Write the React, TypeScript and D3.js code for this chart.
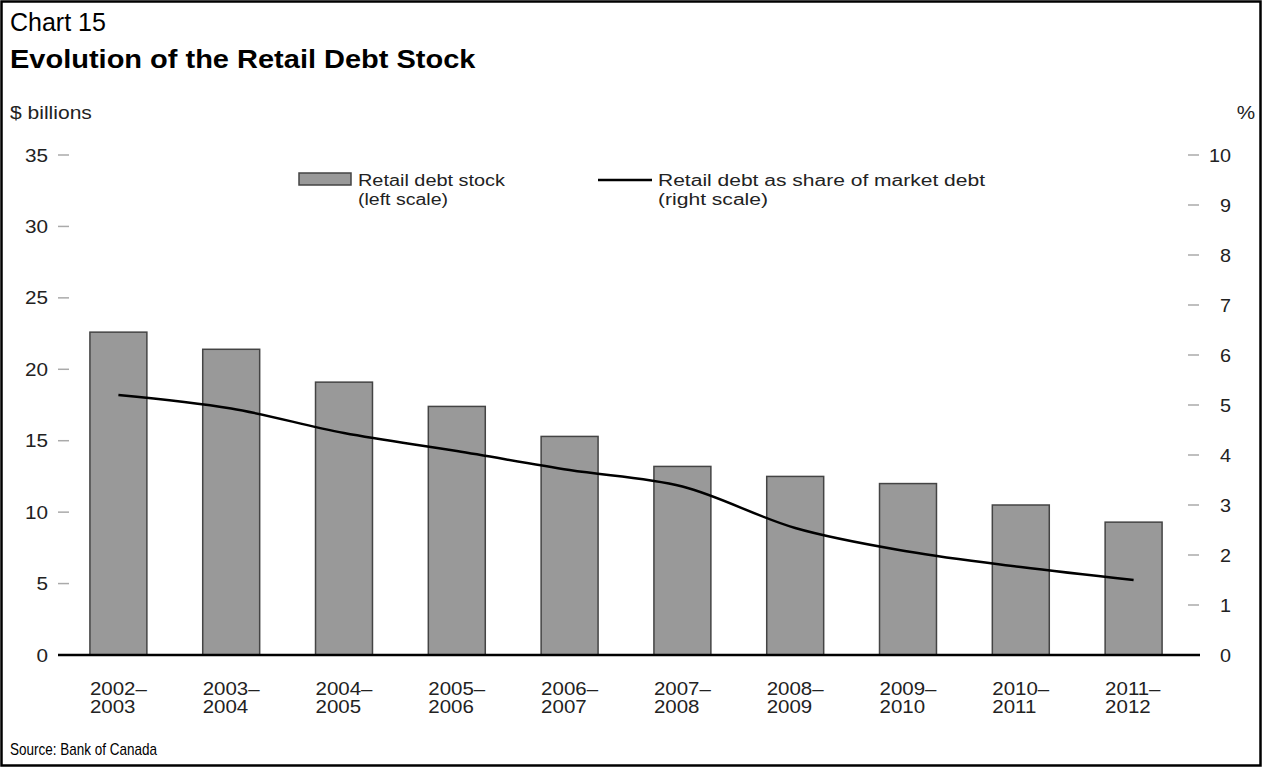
import React from "react";
import * as d3 from "d3";

const categories = ["2002–2003","2003–2004","2004–2005","2005–2006","2006–2007","2007–2008","2008–2009","2009–2010","2010–2011","2011–2012"];
const stock = [22.6, 21.4, 19.1, 17.4, 15.3, 13.2, 12.5, 12.0, 10.5, 9.3];
const share = [5.2, 4.93, 4.44, 4.08, 3.7, 3.37, 2.54, 2.07, 1.76, 1.5];
const leftTicks = [0, 5, 10, 15, 20, 25, 30, 35];
const rightTicks = [0, 1, 2, 3, 4, 5, 6, 7, 8, 9, 10];

const W = 1262, H = 767;
const FONT = "'Liberation Sans', Arial, Helvetica, sans-serif";

function ST({ x, y, k = 1.15, size, anchor = "start", fill = "#222", weight = "normal", children }: any) {
  return (
    <g transform={`translate(${x},${y}) scale(${k},1)`}>
      <text x={0} y={0} fontSize={size} fill={fill} textAnchor={anchor} fontWeight={weight}>{children}</text>
    </g>
  );
}

export default function App() {
  const x0 = 62, x1 = 1190, yTop = 155, yBot = 655;
  const x = d3.scaleBand<string>().domain(categories).range([x0, x1]).paddingInner(0.495).paddingOuter(0.2475);
  const yL = d3.scaleLinear().domain([0, 35]).range([yBot, yTop]);
  const yR = d3.scaleLinear().domain([0, 10]).range([yBot, yTop]);
  const line = d3.line<number>()
    .x((_, i) => (x(categories[i]) as number) + x.bandwidth() / 2)
    .y((d) => yR(d))
    .curve(d3.curveMonotoneX);

  return (
    <svg width={W} height={H} style={{ position: "absolute", left: 0, top: 0, background: "#fff" }} fontFamily={FONT}>
      <rect x={1.5} y={1.5} width={W - 3} height={H - 3} fill="#fff" stroke="#000" strokeWidth={2.5} />
      <text x={10} y={31} fontSize={25} fill="#000">Chart 15</text>
      <ST x={10} y={68} size={25} k={1.16} fill="#000" weight="bold">Evolution of the Retail Debt Stock</ST>
      <ST x={10} y={119} size={18} k={1.17}>$ billions</ST>
      <ST x={1246} y={119} size={18} k={1.15} anchor="middle">%</ST>

      {leftTicks.map((t) => (
        <g key={"l" + t}>
          {t > 0 && <line x1={58} x2={69} y1={yL(t)} y2={yL(t)} stroke="#aaa" strokeWidth={1.5} />}
          <ST x={48} y={yL(t) + 6.5} size={18} k={1.15} anchor="end">{t}</ST>
        </g>
      ))}
      {rightTicks.map((t) => (
        <g key={"r" + t}>
          {t > 0 && <line x1={1188} x2={1199} y1={yR(t)} y2={yR(t)} stroke="#aaa" strokeWidth={1.5} />}
          <ST x={1231} y={yR(t) + 6.5} size={18} k={1.1} anchor="end">{t}</ST>
        </g>
      ))}

      {stock.map((v, i) => (
        <rect key={"b" + i} x={x(categories[i])} y={yL(v)} width={x.bandwidth()} height={yL(0) - yL(v)}
          fill="#999999" stroke="#444" strokeWidth={1.5} />
      ))}
      <line x1={58} x2={1200} y1={yBot} y2={yBot} stroke="#000" strokeWidth={2.5} />
      <path d={line(share) || ""} fill="none" stroke="#000" strokeWidth={2.5} />

      {categories.map((c, i) => {
        const [a, b] = c.split("–");
        const lx = x(c) as number;
        return (
          <g key={"x" + i}>
            <ST x={lx} y={695} size={17.5} k={1.17}>{a + "–"}</ST>
            <ST x={lx} y={713} size={17.5} k={1.17}>{b}</ST>
          </g>
        );
      })}

      <rect x={299} y={173} width={52} height={12} fill="#999999" stroke="#444" strokeWidth={1.5} />
      <text x={358} y={186} fontSize={16} fill="#222" textLength={147} lengthAdjust="spacingAndGlyphs">Retail debt stock</text>
      <text x={358} y={204.5} fontSize={16} fill="#222" textLength={90} lengthAdjust="spacingAndGlyphs">(left scale)</text>
      <line x1={598} x2={652} y1={180} y2={180} stroke="#000" strokeWidth={2.5} />
      <text x={658} y={186} fontSize={16} fill="#222" textLength={327} lengthAdjust="spacingAndGlyphs">Retail debt as share of market debt</text>
      <text x={658} y={204.5} fontSize={16} fill="#222" textLength={110} lengthAdjust="spacingAndGlyphs">(right scale)</text>

      <text x={10} y={755} fontSize={17} fill="#000" textLength={147} lengthAdjust="spacingAndGlyphs">Source: Bank of Canada</text>
    </svg>
  );
}
